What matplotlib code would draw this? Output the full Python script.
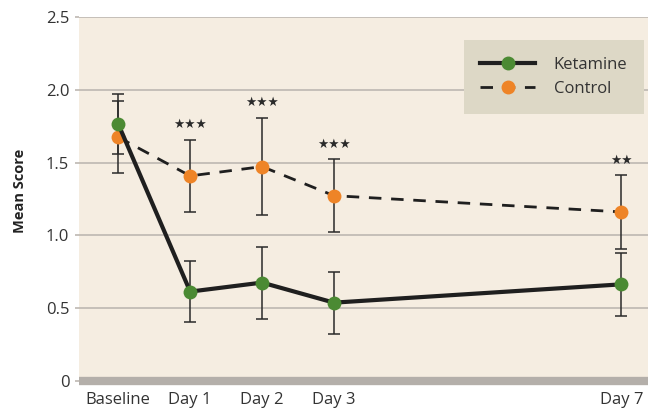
import numpy as np
import matplotlib.pyplot as plt

# Mean score by timepoint
days = [0, 1, 2, 3, 7]
day_labels = ['Baseline', 'Day 1', 'Day 2', 'Day 3', 'Day 7']
ketamine = [1.765, 0.613, 0.675, 0.537, 0.663]
ketamine_err = [0.205, 0.212, 0.248, 0.214, 0.215]
control = [1.675, 1.409, 1.473, 1.273, 1.161]
control_err = [0.247, 0.248, 0.335, 0.25, 0.252]
signif = ['', '★★★', '★★★', '★★★', '★★']

plt.rcParams['font.family'] = ['Open Sans', 'DejaVu Sans']

bg = '#f5ede1'
grid_col = '#bdb7b1'
green = '#4b8a33'
orange = '#ee8427'

fig = plt.figure(figsize=(6.48, 4.11), dpi=100)
ax = fig.add_axes([0.1219, 0.0737, 0.8781, 0.8842])
ax.set_facecolor(bg)

ax.set_xlim(-0.547, 7.37)
ax.set_ylim(0, 2.5)
ax.set_yticks([0, 0.5, 1.0, 1.5, 2.0, 2.5])
ax.set_yticklabels(['0', '0.5', '1.0', '1.5', '2.0', '2.5'])
ax.yaxis.grid(True, color=grid_col, linewidth=1.2)
ax.set_axisbelow(True)
ax.set_xticks(days)
ax.set_xticklabels(day_labels)

for s in ['left', 'right', 'top']:
    ax.spines[s].set_visible(False)
ax.spines['bottom'].set_color('#b4afaa')
ax.spines['bottom'].set_linewidth(6)
ax.spines['bottom'].set_capstyle('butt')

ax.tick_params(axis='y', length=3, color=grid_col, width=1.2, labelsize=12,
               labelcolor='#333333', pad=4)
ax.tick_params(axis='x', length=0, labelsize=12, labelcolor='#333333', pad=8)

# error bars first, then lines and markers on top
ax.errorbar(days, ketamine, yerr=ketamine_err, fmt='none', ecolor='#2a2a2a',
            elinewidth=1.1, capsize=4, capthick=1.1, zorder=3)
ax.errorbar(days, control, yerr=control_err, fmt='none', ecolor='#2a2a2a',
            elinewidth=1.1, capsize=4, capthick=1.1, zorder=3)
ax.plot(days, control, color='#1f1f1f', linewidth=2, dashes=(4.5, 3.5),
        marker='o', markersize=10, markerfacecolor=orange, markeredgewidth=0,
        label='Control', zorder=4)
ax.plot(days, ketamine, color='#1f1f1f', linewidth=3,
        marker='o', markersize=10, markerfacecolor=green, markeredgewidth=0,
        label='Ketamine', zorder=5)

for d, c, e, s in zip(days, control, control_err, signif):
    if s:
        ax.annotate(s, (d, c + e), xytext=(0, 11), textcoords='offset points',
                    ha='center', va='center', fontsize=9,
                    family='DejaVu Sans', color='#2a2a2a')

ax.set_ylabel('Mean Score', fontsize=10.5, fontweight='bold', color='#222222')
ax.yaxis.set_label_coords(-0.091, 0.522)

h, l = ax.get_legend_handles_labels()
leg = ax.legend(h[::-1], l[::-1], loc='upper right', bbox_to_anchor=(0.993, 0.9375),
                frameon=True, fancybox=False, facecolor='#ddd8c6', edgecolor='none',
                framealpha=1, fontsize=12, handlelength=3.3, borderpad=1.0,
                labelspacing=0.5, handletextpad=1.1, borderaxespad=0)
for t in leg.get_texts():
    t.set_color('#333333')

fig.savefig('out.png', dpi=100, facecolor='white')
